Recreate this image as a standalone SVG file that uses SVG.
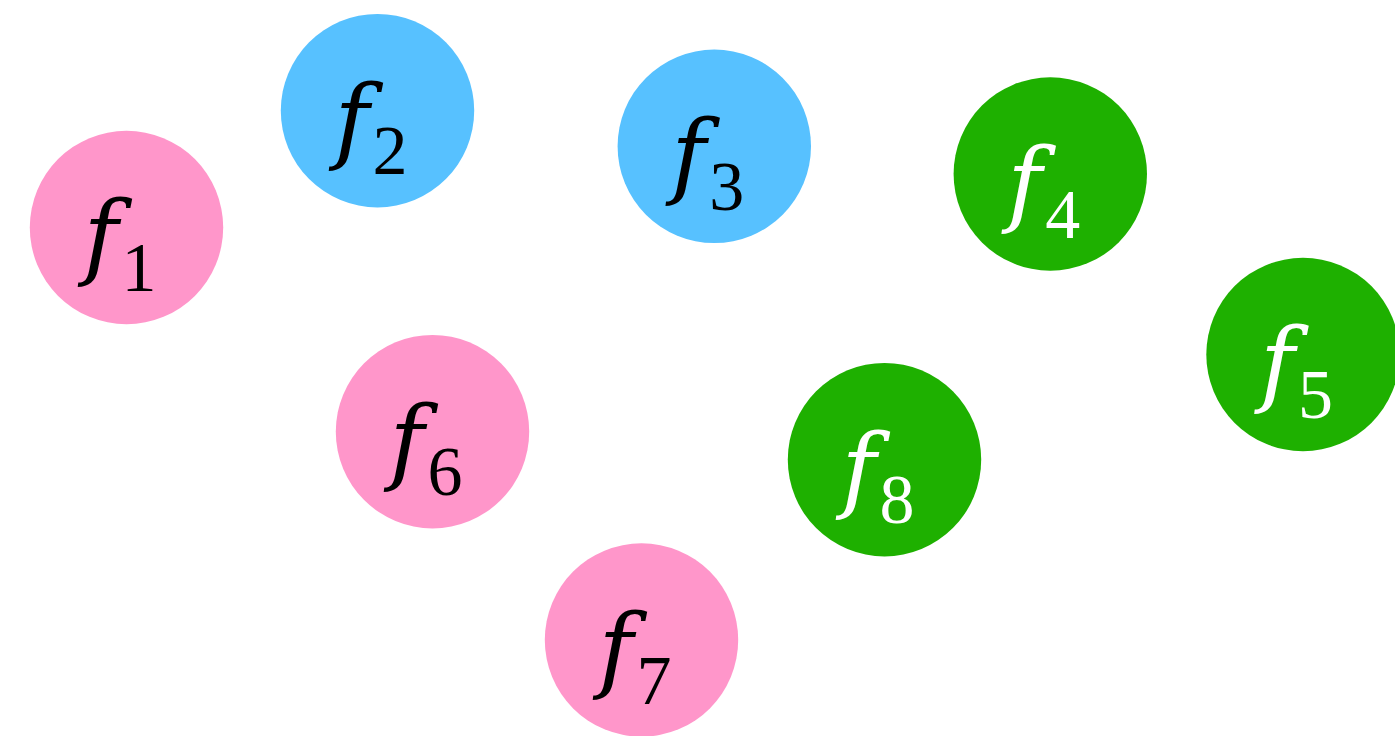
<svg xmlns="http://www.w3.org/2000/svg" width="1395" height="736" viewBox="0 0 1395 736">
<style>
.pink{fill:#FF96CA}.blue{fill:#57C1FF}.green{fill:#1EB000}
text{fill:#000}
text.w{fill:#fff}
.f{font-family:"DejaVu Serif","Liberation Serif",serif;font-style:italic;font-size:94px}
.s{font-family:"Liberation Serif","Times New Roman",serif;font-size:70px}
</style>
<rect width="1395" height="736" fill="#fff"/>
<g id="connectors"/>
<g id="f1"><circle class="pink" cx="126.5" cy="227.5" r="96.7"/><text><tspan class="f" x="83.5" y="268.3">f</tspan><tspan class="s" x="121.5" y="291">1</tspan></text></g>
<g id="f2"><circle class="blue" cx="377.5" cy="110.7" r="96.7"/><text><tspan class="f" x="334.5" y="151.5">f</tspan><tspan class="s" x="372.5" y="174">2</tspan></text></g>
<g id="f3"><circle class="blue" cx="714.3" cy="146.3" r="96.7"/><text><tspan class="f" x="671.3" y="187.1">f</tspan><tspan class="s" x="709.3" y="210">3</tspan></text></g>
<g id="f4"><circle class="green" cx="1050.3" cy="174" r="96.7"/><text class="w"><tspan class="f" x="1007.3" y="214.8">f</tspan><tspan class="s" x="1045.3" y="237.5">4</tspan></text></g>
<g id="f5"><circle class="green" cx="1303" cy="354.5" r="96.7"/><text class="w"><tspan class="f" x="1260" y="395.3">f</tspan><tspan class="s" x="1298" y="418">5</tspan></text></g>
<g id="f6"><circle class="pink" cx="432.5" cy="431.7" r="96.7"/><text><tspan class="f" x="389.5" y="472.5">f</tspan><tspan class="s" x="427.5" y="495">6</tspan></text></g>
<g id="f7"><circle class="pink" cx="641.5" cy="640" r="96.7"/><text><tspan class="f" x="598.5" y="680.8">f</tspan><tspan class="s" x="636.5" y="703.5">7</tspan></text></g>
<g id="f8"><circle class="green" cx="884.5" cy="459.7" r="96.7"/><text class="w"><tspan class="f" x="841.5" y="500.5">f</tspan><tspan class="s" x="879.5" y="523">8</tspan></text></g>
</svg>
